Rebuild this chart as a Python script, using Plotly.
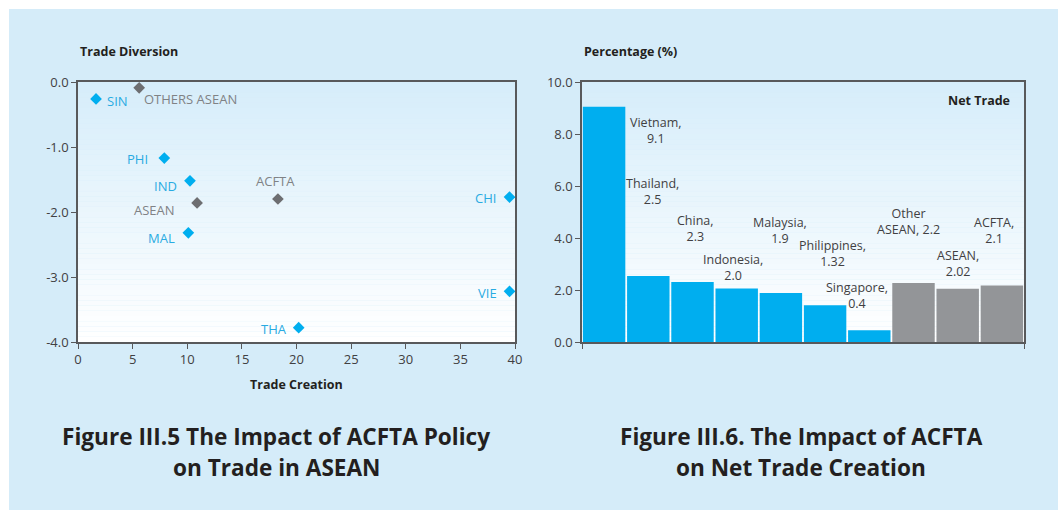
import plotly.graph_objects as go

W, H = 1058, 510

# ---------------- data: Figure III.5 (scatter) ----------------
sc_labels = ["SIN", "OTHERS ASEAN", "PHI", "IND", "ASEAN", "ACFTA", "MAL", "CHI", "VIE", "THA"]
trade_creation = [1.65, 5.6, 7.9, 10.25, 10.9, 18.3, 10.1, 39.5, 39.5, 20.2]
trade_diversion = [-0.26, -0.09, -1.17, -1.52, -1.86, -1.80, -2.32, -1.77, -3.22, -3.78]
sc_group = ["country", "aggregate", "country", "country", "aggregate", "aggregate",
            "country", "country", "country", "country"]
div_ticks = [0, -1, -2, -3, -4]
div_ticktext = ["0.0", "-1.0", "-2.0", "-3.0", "-4.0"]

# ---------------- data: Figure III.6 (bars) ----------------
bar_names = ["Vietnam", "Thailand", "China", "Indonesia", "Malaysia", "Philippines",
             "Singapore", "Other ASEAN", "ASEAN", "ACFTA"]
net_trade = [9.05, 2.54, 2.31, 2.06, 1.88, 1.41, 0.45, 2.27, 2.05, 2.17]
bar_group = ["country"] * 7 + ["aggregate"] * 3
bar_label_text = ["Vietnam,<br>9.1", "Thailand,<br>2.5", "China,<br>2.3", "Indonesia,<br>2.0",
                  "Malaysia,<br>1.9", "Philippines,<br>1.32", "Singapore,<br>0.4",
                  "Other<br>ASEAN, 2.2", "ASEAN,<br>2.02", "ACFTA,<br>2.1"]

# ---------------- styles / layout constants ----------------
BLUE = "#00aeef"
BLUE_TXT = "#29abe2"
GRAY_MK = "#6d6e71"
GRAY_TXT = "#808285"
GRAY_BAR = "#939598"
AXIS = "#58595b"
TXT = "#414042"
BG = "#d5ecf9"
FONT = "Open Sans"

sc_place = {
    "SIN": ("left", 9, -2),
    "OTHERS ASEAN": ("left", 3, -11),
    "PHI": ("right", -14, -1),
    "IND": ("right", -11, -5),
    "ASEAN": ("right", -20, -7),
    "ACFTA": ("center", -2, 18),
    "MAL": ("right", -11, -5),
    "CHI": ("right", -12, -1),
    "VIE": ("right", -11, -2),
    "THA": ("right", -10, -1),
}
bar_place = [(1.17, 8.15), (1.10, 5.8), (2.06, 4.38), (2.92, 2.88), (3.98, 4.27),
             (5.16, 3.42), (5.72, 1.77), (6.88, 4.65), (8.0, 3.02), (8.82, 4.29)]


def px(x):
    return x / W


def py(y):
    return 1 - y / H


fig = go.Figure()

sc_colors = [BLUE if g == "country" else GRAY_MK for g in sc_group]
fig.add_trace(go.Scatter(
    x=trade_creation, y=trade_diversion, mode="markers",
    marker=dict(symbol="diamond", size=9, color=sc_colors, line=dict(width=0)),
    xaxis="x", yaxis="y", showlegend=False, hoverinfo="x+y",
))

bar_colors = [BLUE if g == "country" else GRAY_BAR for g in bar_group]
fig.add_trace(go.Bar(
    x=list(range(len(bar_names))), y=net_trade, marker=dict(color=bar_colors, line=dict(width=0)),
    xaxis="x2", yaxis="y2", showlegend=False, hovertext=bar_names,
))

annotations = []
for lab, xv, yv, g in zip(sc_labels, trade_creation, trade_diversion, sc_group):
    xa, xs, ys = sc_place[lab]
    annotations.append(dict(
        x=xv, y=yv, xref="x", yref="y", text=lab, showarrow=False,
        xanchor=xa, yanchor="middle", xshift=xs, yshift=ys,
        font=dict(family=FONT, size=13, color=BLUE_TXT if g == "country" else GRAY_TXT),
    ))

for txt, (bx, byv) in zip(bar_label_text, bar_place):
    annotations.append(dict(
        x=bx, y=byv, xref="x2", yref="y2", text=txt, showarrow=False,
        xanchor="center", yanchor="middle",
        font=dict(family=FONT, size=12.5, color=TXT),
    ))

bold = dict(family=FONT, size=12.5, color="#231f20")
annotations += [
    dict(x=px(78), y=py(52), xref="paper", yref="paper", text="<b>Trade Diversion</b>",
         showarrow=False, xanchor="left", yanchor="middle", font=bold),
    dict(x=px(296.5), y=py(384), xref="paper", yref="paper", text="<b>Trade Creation</b>",
         showarrow=False, xanchor="center", yanchor="middle", font=bold),
    dict(x=px(582), y=py(52), xref="paper", yref="paper", text="<b>Percentage (%)</b>",
         showarrow=False, xanchor="left", yanchor="middle", font=bold),
    dict(x=px(1012), y=py(101), xref="paper", yref="paper", text="<b>Net Trade</b>",
         showarrow=False, xanchor="right", yanchor="middle", font=bold),
]
cap = dict(family=FONT, size=22.6, color="#231f20")
for cx, lines in [(276, ["Figure III.5 The Impact of ACFTA Policy", "on Trade in ASEAN"]),
                  (801, ["Figure III.6. The Impact of ACFTA", "on Net Trade Creation"])]:
    for ly, t in zip([436, 467], lines):
        annotations.append(dict(x=px(cx), y=py(ly), xref="paper", yref="paper",
                                text="<b>" + t + "</b>", showarrow=False,
                                xanchor="center", yanchor="middle", font=cap))

shapes = [
    dict(type="rect", xref="paper", yref="paper", x0=0, x1=1, y0=py(9), y1=1,
         fillcolor="white", line=dict(width=0), layer="below"),
    dict(type="rect", xref="paper", yref="paper", x0=0, x1=px(9), y0=0, y1=1,
         fillcolor="white", line=dict(width=0), layer="below"),
]
top = (214, 237, 250)
bot = (255, 255, 255)
N = 50
for ax in ["", "2"]:
    for i in range(N):
        t = i / (N - 1)
        c = tuple(round(top[k] + (bot[k] - top[k]) * t) for k in range(3))
        shapes.append(dict(
            type="rect", xref=f"x{ax} domain", yref=f"y{ax} domain",
            x0=0, x1=1, y0=1 - (i + 1) / N, y1=1 - i / N,
            fillcolor="rgb(%d,%d,%d)" % c, line=dict(width=0), layer="below",
        ))

axis_common = dict(showline=True, linecolor=AXIS, linewidth=1.5, mirror=True,
                   ticks="outside", ticklen=5, tickcolor=AXIS, tickwidth=1.2,
                   showgrid=False, zeroline=False, automargin=False,
                   tickfont=dict(family=FONT, size=13, color=TXT))

fig.update_layout(
    template="none",
    width=W, height=H, autosize=False,
    margin=dict(l=0, r=0, t=0, b=0, pad=0),
    paper_bgcolor=BG, plot_bgcolor="rgba(0,0,0,0)",
    bargap=0.04,
    showlegend=False,
    xaxis=dict(domain=[px(78), px(515)], range=[0, 40], dtick=5, anchor="y", **axis_common),
    yaxis=dict(domain=[py(342), py(82)], range=[-4, 0], tickvals=div_ticks,
               ticktext=div_ticktext, anchor="x", **axis_common),
    xaxis2=dict(domain=[px(582), px(1024)], range=[-0.5, 9.5], tickvals=[-0.5, 9.5],
                showticklabels=False, anchor="y2", **axis_common),
    yaxis2=dict(domain=[py(342), py(82)], range=[0, 10], dtick=2, tickformat=".1f",
                anchor="x2", **axis_common),
    annotations=annotations,
    shapes=shapes,
)

fig.write_html(
    "out.html",
    config={"displayModeBar": False},
    post_script="document.body.style.margin='0';document.body.style.overflow='hidden';",
)
